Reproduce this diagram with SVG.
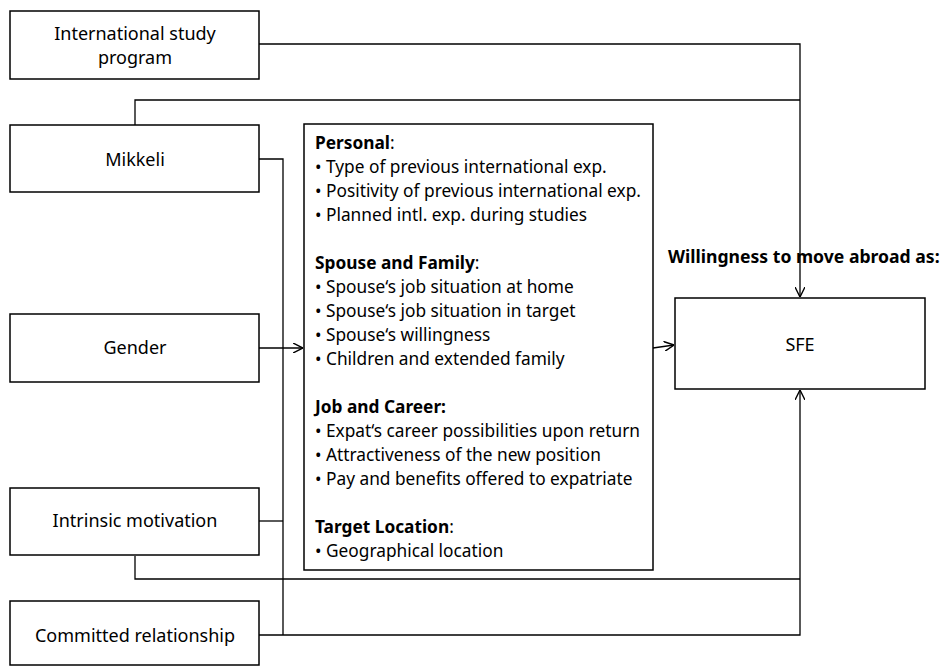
<svg xmlns="http://www.w3.org/2000/svg" width="944" height="667" viewBox="0 0 944 667">
<defs>
<style>
.box{fill:#fff;stroke:#000;stroke-width:1.5}
.lbl{font-family:"Noto Sans","Open Sans","Liberation Sans",sans-serif;font-size:18px;fill:#000;text-anchor:middle}
.li{font-family:"Noto Sans","Open Sans","Liberation Sans",sans-serif;font-size:17.3px;fill:#000}
.b{font-weight:bold}
.ttl{font-size:17.6px}
.con{fill:none;stroke:#000;stroke-width:1.3}
</style>
<marker id="arr" viewBox="0 0 10 10" refX="10" refY="5" markerWidth="10" markerHeight="10" markerUnits="userSpaceOnUse" orient="auto">
<path d="M0,0 L10,5 L0,10" fill="none" stroke="#000" stroke-width="1.4"/>
</marker>
</defs>
<rect width="944" height="667" fill="#fff"/>
<g id="connectors">
<path class="con" d="M259,44 H800 V297" marker-end="url(#arr)"/>
<path class="con" d="M135,125 V100 H800"/>
<path class="con" d="M259,159 H283 V635"/>
<path class="con" d="M259,348 H303" marker-end="url(#arr)"/>
<path class="con" d="M259,521 H283"/>
<path class="con" d="M135,556 V579 H800"/>
<path class="con" d="M259,635 H800 V390" marker-end="url(#arr)"/>
<path class="con" d="M653,348 L674,345" marker-end="url(#arr)"/>
</g>
<g id="international-study-program">
<rect class="box" x="10" y="11" width="249" height="68"/>
<text class="lbl" x="135" y="40">International study</text>
<text class="lbl" x="135" y="64">program</text>
</g>
<g id="mikkeli">
<rect class="box" x="10" y="125" width="249" height="67"/>
<text class="lbl" x="135" y="166">Mikkeli</text>
</g>
<g id="gender">
<rect class="box" x="10" y="314" width="249" height="68"/>
<text class="lbl" x="135" y="354">Gender</text>
</g>
<g id="intrinsic-motivation">
<rect class="box" x="10" y="488" width="249" height="67"/>
<text class="lbl" x="135" y="527">Intrinsic motivation</text>
</g>
<g id="committed-relationship">
<rect class="box" x="10" y="601" width="249" height="64"/>
<text class="lbl" x="135" y="642">Committed relationship</text>
</g>
<g id="factors">
<rect class="box" x="304" y="124" width="349" height="446"/>
<text class="li" x="315"><tspan x="315" y="149"><tspan class="b">Personal</tspan>:</tspan><tspan x="315" y="173">• Type of previous international exp.</tspan><tspan x="315" y="197">• Positivity of previous international exp.</tspan><tspan x="315" y="221">• Planned intl. exp. during studies</tspan><tspan x="315" y="269"><tspan class="b">Spouse and Family</tspan>:</tspan><tspan x="315" y="293">• Spouse‘s job situation at home</tspan><tspan x="315" y="317">• Spouse‘s job situation in target</tspan><tspan x="315" y="341">• Spouse‘s willingness</tspan><tspan x="315" y="365">• Children and extended family</tspan><tspan x="315" y="413" class="b">Job and Career:</tspan><tspan x="315" y="437">• Expat‘s career possibilities upon return</tspan><tspan x="315" y="461">• Attractiveness of the new position</tspan><tspan x="315" y="485">• Pay and benefits offered to expatriate</tspan><tspan x="315" y="533"><tspan class="b">Target Location</tspan>:</tspan><tspan x="315" y="557">• Geographical location</tspan></text>
</g>
<g id="sfe">
<rect class="box" x="675" y="298" width="250" height="91"/>
<text class="lbl" x="800" y="351">SFE</text>
</g>
<g id="willingness-title">
<text class="li b ttl" x="668" y="263">Willingness to move abroad as:</text>
</g>
</svg>
